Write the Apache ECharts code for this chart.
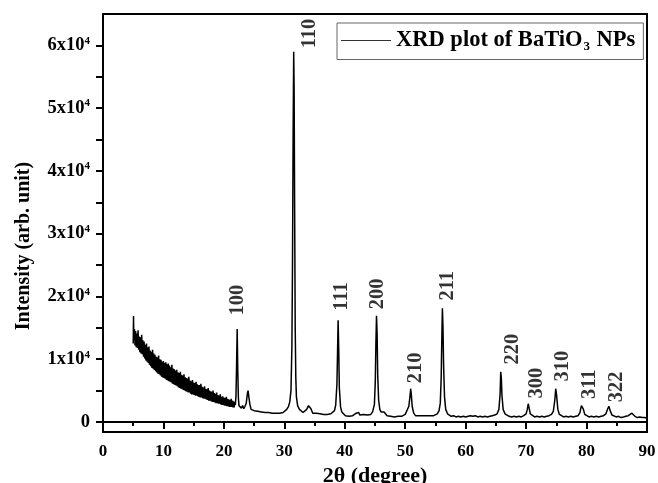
<!DOCTYPE html>
<html lang="en">
<head>
    <meta charset="UTF-8">
    <title>XRD BaTiO3</title>
    <script src="https://cdn.jsdelivr.net/npm/echarts@6/dist/echarts.min.js"></script>
</head>
<body style="margin:0">
    <div id="chart" style="width:658px;height:483px"></div>
    <script>
        // 2theta (deg) / intensity (counts)
        var lowAngleBand = [
            [5.0, 12500], [5.05, 16900], [5.1, 13000],
            [5.2, 14800], [5.3, 12200], [5.4, 14500], [5.5, 11900], [5.6, 14100], [5.7, 11800], [5.8, 14600], [5.9, 11500], [6.0, 13600],
            [6.1, 11100], [6.2, 13500], [6.3, 10900], [6.4, 13900], [6.5, 10800], [6.6, 13000], [6.7, 10400], [6.8, 12800], [6.9, 10100], [7.0, 12300],
            [7.1, 9800], [7.2, 12500], [7.3, 9600], [7.4, 11900], [7.5, 9400], [7.6, 12000], [7.7, 9100], [7.8, 11400], [7.9, 8900], [8.0, 11200],
            [8.1, 8600], [8.2, 11500], [8.3, 8500], [8.4, 10900], [8.5, 8300], [8.6, 10700], [8.7, 8100], [8.8, 10400], [8.9, 7900], [9.0, 10300],
            [9.1, 7700], [9.2, 10600], [9.3, 7600], [9.4, 10000], [9.5, 7400], [9.6, 9900], [9.7, 7200], [9.8, 9600], [9.9, 7100], [10.0, 9700],
            [10.1, 7000], [10.2, 9400], [10.3, 6900], [10.4, 9500], [10.5, 6700], [10.6, 9200], [10.7, 6600], [10.8, 9300], [10.9, 6500], [11.0, 9000],
            [11.1, 6400], [11.2, 8700], [11.3, 6300], [11.4, 9100], [11.5, 6100], [11.6, 8500], [11.7, 6000], [11.8, 8400], [11.9, 5900], [12.0, 8200],
            [12.1, 5800], [12.2, 8300], [12.3, 5700], [12.4, 7900], [12.5, 5500], [12.6, 7800], [12.7, 5400], [12.8, 8000], [12.9, 5300], [13.0, 7500],
            [13.1, 5200], [13.2, 7400], [13.3, 5100], [13.4, 7600], [13.5, 5000], [13.6, 7100], [13.7, 4900], [13.8, 7000], [13.9, 4800], [14.0, 6900],
            [14.1, 4700], [14.2, 7200], [14.3, 4700], [14.4, 6600], [14.5, 4500], [14.6, 6500], [14.7, 4400], [14.8, 6700], [14.9, 4400], [15.0, 6300],
            [15.1, 4300], [15.2, 6200], [15.3, 4200], [15.4, 6400], [15.5, 4200], [15.6, 6000], [15.7, 4100], [15.8, 5900], [15.9, 4000], [16.0, 5900],
            [16.1, 3900], [16.2, 6100], [16.3, 3900], [16.4, 5600], [16.5, 3800], [16.6, 5500], [16.7, 3700], [16.8, 5700], [16.9, 3700], [17.0, 5300],
            [17.1, 3600], [17.2, 5200], [17.3, 3500], [17.4, 5400], [17.5, 3400], [17.6, 5000], [17.7, 3400], [17.8, 4900], [17.9, 3300], [18.0, 4800],
            [18.1, 3200], [18.2, 5000], [18.3, 3200], [18.4, 4600], [18.5, 3100], [18.6, 4500], [18.7, 3000], [18.8, 4700], [18.9, 3000], [19.0, 4300],
            [19.1, 2900], [19.2, 4200], [19.3, 2900], [19.4, 4400], [19.5, 2800], [19.6, 4000], [19.7, 2700], [19.8, 4100], [19.9, 2700], [20.0, 3900],
            [20.1, 2600], [20.2, 3800], [20.3, 2600], [20.4, 4000], [20.5, 2500], [20.6, 3700], [20.7, 2500], [20.8, 3600], [20.9, 2400], [21.0, 3500],
            [21.1, 2400], [21.2, 3700], [21.3, 2400], [21.4, 3400], [21.5, 2300], [21.6, 3300], [21.7, 2300], [21.8, 3200]
        ]
        var midAngle = [
            [21.9, 2700], [22.0, 4200], [22.1, 9000], [22.2, 14800], [22.3, 8000], [22.4, 3800], [22.5, 2600],
            [22.7, 2900], [22.9, 2200], [23.1, 2600], [23.3, 2100], [23.5, 2500], [23.7, 3000], [23.9, 4600],
            [24.0, 5000], [24.1, 4200], [24.3, 2800], [24.5, 2000], [24.7, 2300], [25.0, 1800], [25.3, 2100],
            [25.6, 1700], [25.9, 2000], [26.2, 1600], [26.5, 1900], [26.8, 1500], [27.1, 1800], [27.4, 1500],
            [27.7, 1700], [28.0, 1400], [28.3, 1700], [28.6, 1400], [28.9, 1600], [29.2, 1400], [29.5, 1700],
            [29.8, 1500], [30.1, 1800], [30.4, 2000], [30.7, 2500], [30.9, 3200], [31.1, 5000], [31.25, 12000],
            [31.35, 25000], [31.45, 45000], [31.55, 59000], [31.62, 53000], [31.7, 35000], [31.8, 15000],
            [31.9, 7000], [32.0, 4000], [32.2, 2600], [32.5, 2000], [32.8, 1700], [33.1, 1500], [33.4, 1600],
            [33.7, 2000], [34.0, 2600], [34.2, 2700], [34.4, 2100], [34.7, 1400], [35.0, 1200], [35.3, 1400],
            [35.6, 1100], [35.9, 1300], [36.2, 1000], [36.5, 1200], [36.8, 1000], [37.1, 1200], [37.4, 1100],
            [37.7, 1300], [38.0, 1400], [38.3, 1800], [38.5, 2700], [38.7, 6000], [38.8, 11000], [38.9, 16200],
            [39.0, 11500], [39.1, 5500], [39.3, 2400], [39.5, 1600], [39.8, 1300], [40.1, 1000], [40.4, 1200],
            [40.7, 900], [41.0, 1100], [41.3, 1000], [41.6, 1200], [41.9, 1400], [42.1, 1700], [42.3, 1500],
            [42.5, 1100], [42.8, 1000], [43.1, 1200], [43.4, 1000], [43.7, 1100], [44.0, 1000], [44.3, 1200],
            [44.6, 1600], [44.9, 2800], [45.05, 6500], [45.15, 12500], [45.25, 16900], [45.35, 14000],
            [45.45, 7500], [45.6, 3500], [45.8, 2000], [46.0, 1600], [46.3, 1300], [46.5, 1600], [46.7, 1300],
            [47.0, 1000], [47.3, 1100], [47.6, 900], [47.9, 1000], [48.2, 800], [48.5, 1000], [48.8, 900],
            [49.1, 1000], [49.4, 900], [49.7, 1000], [50.0, 1200], [50.3, 1500], [50.6, 2500], [50.8, 4200],
            [50.9, 5300], [51.0, 4500], [51.15, 2500], [51.4, 1400], [51.7, 1000], [52.0, 900], [52.3, 1000],
            [52.6, 800], [52.9, 1000], [53.2, 900], [53.5, 1000], [53.8, 900], [54.1, 1000], [54.4, 900],
            [54.7, 1000], [55.0, 1100], [55.3, 1300], [55.6, 1800], [55.8, 3000], [55.95, 7000], [56.05, 13000],
            [56.15, 18100], [56.25, 15000], [56.35, 9000], [56.5, 4000], [56.7, 2000], [57.0, 1300], [57.3, 1100]
        ]
        var highAngle = [
            [57.6, 900], [58.0, 1000], [58.4, 800], [58.8, 900], [59.2, 800], [59.6, 900], [60.0, 800],
            [60.4, 900], [60.8, 1000], [61.2, 900], [61.6, 1000], [62.0, 800], [62.4, 900], [62.8, 800],
            [63.2, 900], [63.6, 800], [64.0, 900], [64.4, 1000], [64.8, 1100], [65.2, 1300], [65.5, 2000],
            [65.7, 4500], [65.8, 8000], [65.9, 7000], [66.0, 4300], [66.2, 2000], [66.5, 1300], [66.8, 1000],
            [67.2, 900], [67.6, 800], [68.0, 900], [68.4, 800], [68.8, 900], [69.2, 800], [69.6, 1000],
            [70.0, 1300], [70.2, 2000], [70.35, 2900], [70.5, 2200], [70.7, 1300], [71.0, 1000], [71.4, 800],
            [71.8, 900], [72.2, 800], [72.6, 900], [73.0, 800], [73.4, 900], [73.8, 1000], [74.2, 1200],
            [74.5, 1700], [74.75, 3500], [74.9, 5300], [75.05, 4200], [75.25, 2000], [75.5, 1200], [75.8, 1000],
            [76.2, 800], [76.6, 900], [77.0, 800], [77.4, 900], [77.8, 800], [78.2, 900], [78.6, 1000],
            [78.9, 1500], [79.15, 2600], [79.3, 2800], [79.45, 2100], [79.7, 1200], [80.0, 900], [80.4, 800],
            [80.8, 900], [81.2, 800], [81.6, 900], [82.0, 800], [82.4, 900], [82.8, 1000], [83.2, 1300],
            [83.5, 2100], [83.7, 2500], [83.9, 1800], [84.2, 1100], [84.5, 900], [84.9, 800], [85.3, 900],
            [85.7, 700], [86.1, 800], [86.5, 900], [86.9, 1000], [87.2, 1200], [87.5, 1400], [87.7, 1200],
            [88.0, 900], [88.4, 700], [88.8, 800], [89.2, 700], [89.6, 700], [90.0, 600]
        ]

        // (hkl) tags: angle and height where the tag sits
        var hkl = ['100', '110', '111', '200', '210', '211', '220', '300', '310', '311', '322']
        var hklAngle = [22.3, 34.2, 39.5, 45.5, 51.7, 57.0, 67.8, 71.8, 76.1, 80.6, 85.0]
        var hklHeight = [19400, 61900, 20000, 20400, 8600, 21700, 11600, 6200, 8900, 6000, 5600]

        var yLabelValues = [0, 10000, 20000, 30000, 40000, 50000, 60000]
        var yTickValues = [0, 5000, 10000, 15000, 20000, 25000, 30000, 35000, 40000, 45000, 50000, 55000, 60000]

        var serif = 'Liberation Serif'
        var seriesName = 'XRD plot of BaTiO3 NPs'

        var myChart = echarts.init(document.getElementById('chart'))

        var tags = hkl.map(function(h, i) {
            return { name: h, value: [hklAngle[i], hklHeight[i]] }
        })

        var option = {
            animation: false,
            grid: {
                left: 103, right: 11, top: 14, bottom: 51,
                outerBoundsMode: 'none',
                show: true, borderColor: '#000', borderWidth: 2
            },
            legend: {
                data: [seriesName],
                left: 337, top: 23,
                padding: [6, 8, 6, 4],
                icon: 'rect',
                itemWidth: 50, itemHeight: 1, itemGap: 0,
                itemStyle: { color: '#333' },
                borderColor: '#666', borderWidth: 1,
                formatter: function() {
                    return '{b|XRD plot of BaTiO}{s|3}{b| NPs}'
                },
                textStyle: {
                    rich: {
                        b: { fontFamily: serif, fontWeight: 'bold', fontSize: 22.5, color: '#000' },
                        s: { fontFamily: serif, fontWeight: 'bold', fontSize: 13, color: '#000', padding: [13, 1, 0, 1] }
                    }
                }
            },
            xAxis: {
                type: 'value', min: 0, max: 90, interval: 10,
                name: '2θ (degree)', nameLocation: 'middle', nameGap: 27,
                nameTextStyle: { fontFamily: serif, fontWeight: 'bold', fontSize: 22, color: '#000' },
                axisLine: { lineStyle: { color: '#000', width: 2 } },
                axisTick: { length: 7, lineStyle: { color: '#000', width: 2 } },
                minorTick: { show: true, splitNumber: 2, length: 4, lineStyle: { color: '#000', width: 2 } },
                splitLine: { show: false },
                axisLabel: { margin: 11, fontFamily: serif, fontWeight: 'bold', fontSize: 17, color: '#000' }
            },
            yAxis: {
                type: 'value', min: -1600, max: 65000,
                name: 'Intensity (arb. unit)', nameLocation: 'middle', nameGap: 69,
                nameTextStyle: { fontFamily: serif, fontWeight: 'bold', fontSize: 20, color: '#000', padding: [0, 46, 0, 0] },
                axisLine: { show: true, lineStyle: { color: '#000', width: 2 } },
                axisTick: { show: true, length: 7, customValues: yTickValues, lineStyle: { color: '#000', width: 2 } },
                splitLine: { show: false },
                axisLabel: {
                    customValues: yLabelValues,
                    margin: 13,
                    formatter: function(v) {
                        if (v === 0) return '{b|0}'
                        return '{b|' + (v / 10000) + 'x10}{sup|4}'
                    },
                    rich: {
                        b: { fontFamily: serif, fontWeight: 'bold', fontSize: 18.5, color: '#000' },
                        sup: { fontFamily: serif, fontWeight: 'bold', fontSize: 11, color: '#000', padding: [0, 0, 9, 0] }
                    }
                }
            },
            series: [{
                name: seriesName,
                type: 'line',
                symbol: 'none',
                data: lowAngleBand.concat(midAngle, highAngle),
                lineStyle: { color: '#000', width: 1.5 }
            }, {
                name: 'hkl',
                type: 'scatter',
                symbolSize: 1,
                itemStyle: { color: 'rgba(0,0,0,0)' },
                silent: true,
                data: tags,
                label: {
                    show: true, position: 'inside', rotate: 90,
                    formatter: '{b}',
                    fontFamily: serif, fontWeight: 'bold', fontSize: 20.5, color: '#000'
                }
            }]
        }
        myChart.setOption(option)
    </script>
</body>
</html>
